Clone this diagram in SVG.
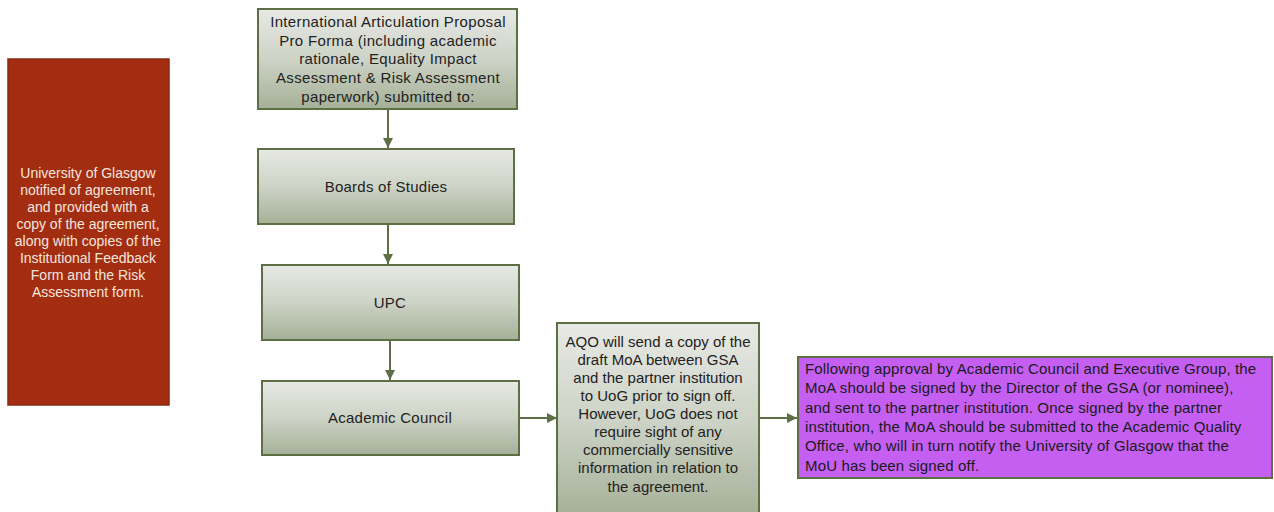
<svg xmlns="http://www.w3.org/2000/svg" width="1274" height="512" viewBox="0 0 1274 512">
  <defs>
    <linearGradient id="sage" x1="0" y1="0" x2="0" y2="1">
      <stop offset="0" stop-color="#e8e9e5"/>
      <stop offset="0.5" stop-color="#cdd3c6"/>
      <stop offset="1" stop-color="#a5b097"/>
    </linearGradient>
    <marker id="arrow" viewBox="0 0 10 10" refX="10" refY="5" markerWidth="10" markerHeight="10" markerUnits="userSpaceOnUse" orient="auto">
      <path d="M0,0 L10,5 L0,10 Z" fill="#5d6f45"/>
    </marker>
  </defs>
  <style>
    .step { fill: url(#sage); stroke: #5d6f45; stroke-width: 2; }
    .label { font-family: "Liberation Sans", Arial, sans-serif; font-size: 15px; letter-spacing: 0.25px; fill: #222; text-anchor: middle; }
    .tight { letter-spacing: 0; }
    .note { font-family: "Liberation Sans", Arial, sans-serif; font-size: 14px; fill: #f3e6df; text-anchor: middle; }
    .body { font-family: "Liberation Sans", Arial, sans-serif; font-size: 15px; letter-spacing: 0.15px; fill: #1a1a1a; }
    .link { stroke: #5d6f45; stroke-width: 2; fill: none; marker-end: url(#arrow); }
  </style>
  <rect width="1274" height="512" fill="#ffffff"/>

  <g id="connectors">
    <line class="link" x1="388" y1="110" x2="388" y2="148"/>
    <line class="link" x1="388" y1="224" x2="388" y2="264"/>
    <line class="link" x1="390" y1="340" x2="390" y2="380"/>
    <line class="link" x1="519" y1="418" x2="557" y2="418"/>
    <line class="link" x1="759" y1="418" x2="797" y2="418"/>
  </g>

  <g id="notification">
    <rect x="8" y="59" width="161" height="346" fill="#a32d11" stroke="#8c2a12" stroke-width="1.5"/>
    <text class="note" x="88" y="178">University of Glasgow</text>
    <text class="note" x="88" y="195">notified of agreement,</text>
    <text class="note" x="88" y="212">and provided with a</text>
    <text class="note" x="88" y="229">copy of the agreement,</text>
    <text class="note" x="88" y="246">along with copies of the</text>
    <text class="note" x="88" y="263">Institutional Feedback</text>
    <text class="note" x="88" y="280">Form and the Risk</text>
    <text class="note" x="88" y="297">Assessment form.</text>
  </g>

  <g id="proposal">
    <rect class="step" x="258" y="9" width="259" height="100"/>
    <text class="label" x="388" y="27" style="letter-spacing:0.35px">International Articulation Proposal</text>
    <text class="label" x="388" y="46" style="letter-spacing:0.35px">Pro Forma (including academic</text>
    <text class="label" x="388" y="64" style="letter-spacing:0.35px">rationale, Equality Impact</text>
    <text class="label" x="388" y="83" style="letter-spacing:0.35px">Assessment &amp; Risk Assessment</text>
    <text class="label" x="388" y="102" style="letter-spacing:0.35px">paperwork) submitted to:</text>
  </g>

  <g id="boards">
    <rect class="step" x="258" y="149" width="256" height="75"/>
    <text class="label" x="386" y="192">Boards of Studies</text>
  </g>

  <g id="upc">
    <rect class="step" x="262" y="265" width="257" height="75"/>
    <text class="label" x="390" y="308">UPC</text>
  </g>

  <g id="council">
    <rect class="step" x="262" y="381" width="257" height="74"/>
    <text class="label" x="390" y="423">Academic Council</text>
  </g>

  <g id="aqo">
    <rect class="step" x="557" y="323" width="202" height="195"/>
    <text class="label tight" x="658" y="347">AQO will send a copy of the</text>
    <text class="label tight" x="658" y="365">draft MoA between GSA</text>
    <text class="label tight" x="658" y="383">and the partner institution</text>
    <text class="label tight" x="658" y="401">to UoG prior to sign off.</text>
    <text class="label tight" x="658" y="419">However, UoG does not</text>
    <text class="label tight" x="658" y="437">require sight of any</text>
    <text class="label tight" x="658" y="455">commercially sensitive</text>
    <text class="label tight" x="658" y="473">information in relation to</text>
    <text class="label tight" x="658" y="492">the agreement.</text>
  </g>

  <g id="signoff">
    <rect x="798" y="357" width="474" height="121" fill="#c55ff2" stroke="#5d6f45" stroke-width="2"/>
    <text class="body" x="805" y="374">Following approval by Academic Council and Executive Group, the</text>
    <text class="body" x="805" y="393">MoA should be signed by the Director of the GSA (or nominee),</text>
    <text class="body" x="805" y="413">and sent to the partner institution. Once signed by the partner</text>
    <text class="body" x="805" y="432">institution, the MoA should be submitted to the Academic Quality</text>
    <text class="body" x="805" y="451">Office, who will in turn notify the University of Glasgow that the</text>
    <text class="body" x="805" y="471">MoU has been signed off.</text>
  </g>
</svg>
